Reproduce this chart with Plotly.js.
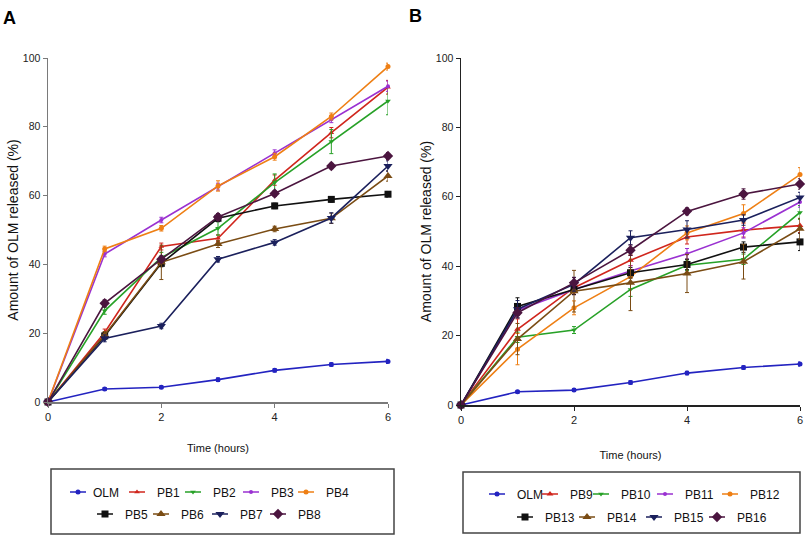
<!DOCTYPE html>
<html>
<head>
<meta charset="utf-8">
<script src="https://cdn.plot.ly/plotly-3.0.1.min.js"></script>
<style>
  html, body { margin: 0; padding: 0; background: #fff; }
  #chart { width: 810px; height: 536px; }
  /* shorter legend line, centred on the marker, text pulled in */
  #chart .legendlines path { d: path('M12,0h16'); }
  #chart .legendtext { transform: translateX(-5px); }
</style>
</head>
<body>
<div id="chart"></div>
<script>
// sampling times (hours)
const time = [0, 1, 2, 3, 4, 5, 6];

// panel A – % OLM released
const olmA = [0, 3.8, 4.3, 6.5, 9.2, 10.9, 11.8];
const pb1 = [0, 20.2, 45.2, 47.6, 64.5, 78.3, 91.5];
const pb2 = [0, 26.5, 42.0, 50.5, 63.8, 75.7, 87.5];
const pb3 = [0, 43.0, 52.9, 62.6, 72.3, 82.2, 91.8];
const pb4 = [0, 44.5, 50.5, 62.8, 71.3, 83.0, 97.5];
const pb5 = [0, 19.2, 40.3, 53.4, 57.0, 58.9, 60.4];
const pb6 = [0, 19.5, 40.6, 45.9, 50.3, 53.4, 65.7];
const pb7 = [0, 18.5, 22.1, 41.5, 46.4, 53.5, 68.6];
const pb8 = [0, 28.7, 41.5, 53.8, 60.6, 68.6, 71.5];

// panel A – error bars (SD)
const olmAErr = [0, 0.4, 0.4, 0.5, 0.5, 0.5, 0.6];
const pb1Err = [0, 1, 1, 1, 1.5, 1.5, 2];
const pb2Err = [0, 1, 1.5, 2, 2.5, 3.5, 4];
const pb3Err = [0, 0.8, 0.8, 1, 1, 1, 1.5];
const pb4Err = [0, 0.8, 0.8, 1.5, 1, 1, 1];
const pb5Err = [0, 1, 1, 1, 0.8, 0.8, 0.8];
const pb6Err = [0, 1, 5, 1, 0.8, 1.5, 1.5];
const pb7Err = [0, 1, 0.8, 0.8, 0.8, 1.5, 1.5];
const pb8Err = [0, 1, 1, 1, 0.8, 0.8, 1];

// panel B – % OLM released
const olmB = [0, 3.8, 4.3, 6.5, 9.2, 10.8, 11.8];
const pb9 = [0, 21.8, 33.8, 41.7, 48.4, 50.4, 51.7];
const pb10 = [0, 19.5, 21.6, 33.3, 40.3, 42.0, 55.5];
const pb11 = [0, 27.3, 33.3, 38.6, 43.6, 49.6, 58.5];
const pb12 = [0, 16.1, 28.0, 37.0, 49.6, 55.2, 66.4];
const pb13 = [0, 28.4, 33.3, 38.1, 40.5, 45.5, 47.0];
const pb14 = [0, 19.0, 32.8, 35.2, 37.9, 41.3, 50.8];
const pb15 = [0, 27.6, 34.8, 48.2, 50.6, 53.3, 59.8];
const pb16 = [0, 26.6, 35.2, 44.6, 55.8, 60.8, 63.7];

// panel B – error bars (SD)
const olmBErr = [0, 0.4, 0.4, 0.5, 0.5, 0.5, 0.6];
const pb9Err = [0, 3, 1.5, 1.5, 2, 2, 2];
const pb10Err = [0, 1.5, 1, 2, 1.5, 1.5, 2];
const pb11Err = [0, 1.5, 1.5, 1.5, 1.5, 1.5, 1.5];
const pb12Err = [0, 4.5, 2, 2, 2, 2.5, 2];
const pb13Err = [0, 2.5, 1.5, 1.5, 1.5, 1.5, 2.5];
const pb14Err = [0, 4.5, 6, 8, 5.5, 5, 3];
const pb15Err = [0, 2.5, 2, 2, 2.5, 1.5, 1.5];
const pb16Err = [0, 1.5, 1.5, 1.5, 1, 1.5, 1.5];

const colors = {
  olm: '#2323c0', red: '#d0261d', green: '#27a127', purple: '#9a31d1',
  orange: '#ee7f14', black: '#111111', brown: '#7a4c14', navy: '#1b205c', plum: '#4b153f'
};

// legend layout: one small legend per entry, [symbol centre x px, row y px]
const legendSpots = [
  [78, 492], [137, 492], [193, 492], [251, 492], [306, 492],
  [105, 514], [161, 514], [220, 514], [278, 514],
  [497, 494], [550, 494], [601, 494], [665, 494], [730, 494],
  [525, 517], [587, 517], [654, 517], [717, 517]
];

let legendCount = 0;
function series(name, y, err, color, symbol, size, xa, ya) {
  legendCount += 1;
  return {
    x: time, y: y, name: name, type: 'scatter', mode: 'lines+markers',
    xaxis: xa, yaxis: ya, cliponaxis: false,
    legend: legendCount === 1 ? 'legend' : 'legend' + legendCount,
    line: { color: color, width: 1.6 },
    marker: { color: color, symbol: symbol, size: size },
    error_y: { type: 'data', array: err, visible: true, color: color, thickness: 1, width: 2 }
  };
}

const data = [
  series('OLM', olmA, olmAErr, colors.olm, 'circle', 5, 'x', 'y'),
  series('PB1', pb1, pb1Err, colors.red, 'triangle-up', 5, 'x', 'y'),
  series('PB2', pb2, pb2Err, colors.green, 'triangle-down', 5, 'x', 'y'),
  series('PB3', pb3, pb3Err, colors.purple, 'circle', 4, 'x', 'y'),
  series('PB4', pb4, pb4Err, colors.orange, 'circle', 5, 'x', 'y'),
  series('PB5', pb5, pb5Err, colors.black, 'square', 7, 'x', 'y'),
  series('PB6', pb6, pb6Err, colors.brown, 'triangle-up', 8, 'x', 'y'),
  series('PB7', pb7, pb7Err, colors.navy, 'triangle-down', 8, 'x', 'y'),
  series('PB8', pb8, pb8Err, colors.plum, 'diamond', 8, 'x', 'y'),

  series('OLM', olmB, olmBErr, colors.olm, 'circle', 5, 'x2', 'y2'),
  series('PB9', pb9, pb9Err, colors.red, 'triangle-up', 6, 'x2', 'y2'),
  series('PB10', pb10, pb10Err, colors.green, 'triangle-down', 5, 'x2', 'y2'),
  series('PB11', pb11, pb11Err, colors.purple, 'circle', 4, 'x2', 'y2'),
  series('PB12', pb12, pb12Err, colors.orange, 'circle', 5, 'x2', 'y2'),
  series('PB13', pb13, pb13Err, colors.black, 'square', 7, 'x2', 'y2'),
  series('PB14', pb14, pb14Err, colors.brown, 'triangle-up', 8, 'x2', 'y2'),
  series('PB15', pb15, pb15Err, colors.navy, 'triangle-down', 8, 'x2', 'y2'),
  series('PB16', pb16, pb16Err, colors.plum, 'diamond', 8, 'x2', 'y2')
];

const font = 'Liberation Sans, Arial, sans-serif';

function xAxis(domain, anchor, lineColor, standoff) {
  return {
    domain: domain, anchor: anchor, range: [0, 6], tickvals: [0, 2, 4, 6],
    showgrid: false, zeroline: false, showline: true, linecolor: lineColor, linewidth: 1.5,
    ticks: 'outside', ticklen: 4, tickcolor: lineColor, tickfont: { size: 11, color: '#222' },
    title: { text: 'Time (hours)', font: { size: 11, color: '#111' }, standoff: standoff }
  };
}
function yAxis(domain, anchor, lineColor, standoff) {
  return {
    domain: domain, anchor: anchor, range: [0, 100], tickvals: [0, 20, 40, 60, 80, 100],
    showgrid: false, zeroline: false, showline: true, linecolor: lineColor, linewidth: 1.5,
    ticks: 'outside', ticklen: 4, tickcolor: lineColor, tickfont: { size: 10.5, color: '#222' },
    title: { text: 'Amount of OLM released (%)', font: { size: 14, color: '#111' }, standoff: standoff }
  };
}

const layout = {
  width: 810, height: 536,
  margin: { l: 0, r: 0, t: 0, b: 0, autoexpand: false },
  paper_bgcolor: '#fff', plot_bgcolor: '#fff',
  font: { family: font, color: '#111' },
  xaxis: xAxis([48 / 810, 388 / 810], 'y', '#7a7a7a', 22),
  yaxis: yAxis([1 - 402 / 536, 1 - 58 / 536], 'x', '#7a7a7a', 1),
  xaxis2: xAxis([461 / 810, 800 / 810], 'y2', '#222', 26),
  yaxis2: yAxis([1 - 405 / 536, 1 - 58 / 536], 'x2', '#222', 1),
  shapes: [
    { type: 'rect', xref: 'paper', yref: 'paper', x0: 51 / 810, x1: 394 / 810,
      y0: 1 - 534 / 536, y1: 1 - 469 / 536, line: { color: '#444', width: 1.5 } },
    { type: 'rect', xref: 'paper', yref: 'paper', x0: 463 / 810, x1: 800 / 810,
      y0: 1 - 533 / 536, y1: 1 - 472 / 536, line: { color: '#444', width: 1.5 } }
  ],
  annotations: [
    { text: '<b>A</b>', x: 1 / 810, y: 1 - 6 / 536, xref: 'paper', yref: 'paper',
      xanchor: 'left', yanchor: 'top', showarrow: false, font: { size: 18, color: '#000' } },
    { text: '<b>B</b>', x: 407 / 810, y: 1 - 4 / 536, xref: 'paper', yref: 'paper',
      xanchor: 'left', yanchor: 'top', showarrow: false, font: { size: 18, color: '#000' } }
  ],
  showlegend: true
};

legendSpots.forEach(function (spot, i) {
  const key = i === 0 ? 'legend' : 'legend' + (i + 1);
  layout[key] = {
    orientation: 'h', x: (spot[0] - 20) / 810, y: 1 - spot[1] / 536,
    xanchor: 'left', yanchor: 'middle', itemwidth: 30,
    font: { size: 12, color: '#111' }, bgcolor: 'rgba(0,0,0,0)', borderwidth: 0
  };
});

try {
  Plotly.newPlot('chart', data, layout, { displayModeBar: false, staticPlot: true });
} catch (error) {
  console.error('Error plotting chart:', error);
}
</script>
</body>
</html>
